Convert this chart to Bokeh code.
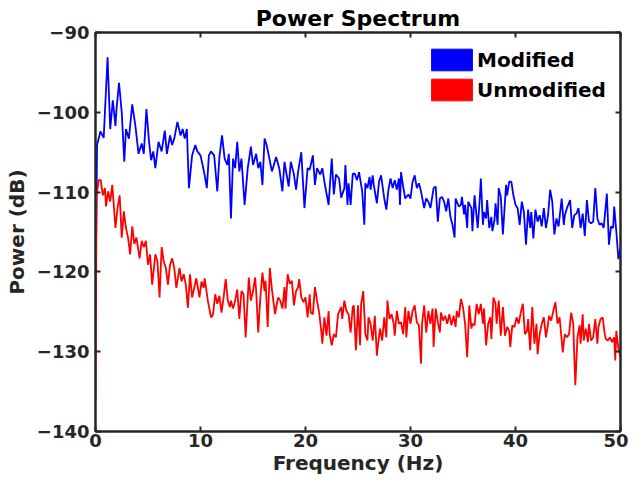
from bokeh.plotting import figure
from bokeh.models import LinearAxis, Legend, LegendItem, FixedTicker, Range1d
from bokeh.embed import file_html
from bokeh.resources import INLINE

# ---- data ----
freq_modified = [
    0.0, 0.15, 0.47, 0.78, 1.15, 1.4, 1.65, 1.9, 2.0, 2.24, 2.5, 2.74, 2.9, 3.18, 3.5, 3.8,
    4.1, 4.4, 4.6, 4.85, 5.1, 5.3, 5.5, 5.7, 6.0, 6.3, 6.6, 6.8, 7.1, 7.3, 7.5, 7.8,
    8.1, 8.3, 8.5, 8.7, 8.9, 9.2, 9.5, 9.7, 10.0, 10.2, 10.4, 10.6, 10.8, 11.0, 11.3, 11.6,
    11.8, 12.05, 12.3, 12.55, 12.7, 12.9, 13.1, 13.3, 13.5, 13.7, 13.9, 14.2, 14.5, 14.8,
    15.0, 15.3, 15.5, 15.7, 15.9, 16.1, 16.3, 16.5, 16.8, 16.9, 17.2, 17.5, 17.8, 18.0,
    18.2, 18.4, 18.6, 18.9, 19.1, 19.3, 19.6, 19.9, 20.2, 20.4, 20.7, 20.9, 21.1, 21.4,
    21.6, 21.8, 22.2, 22.5, 22.7, 22.9, 23.2, 23.4, 23.7, 23.8, 24.0, 24.1, 24.3, 24.5,
    24.7, 24.9, 25.1, 25.4, 25.6, 25.7, 25.9, 26.1, 26.2, 26.4, 26.5, 26.8, 27.0, 27.2,
    27.5, 27.7, 27.9, 28.1, 28.3, 28.5, 28.7, 28.9, 29.0, 29.1, 29.3, 29.5, 29.8, 30.0,
    30.2, 30.4, 30.6, 30.8, 31.0, 31.3, 31.5, 31.7, 31.9, 32.2, 32.4, 32.6, 32.8, 33.0,
    33.2, 33.4, 33.6, 33.8, 34.0, 34.2, 34.3, 34.6, 34.8, 34.9, 35.1, 35.2, 35.4, 35.5,
    35.8, 35.9, 36.1, 36.4, 36.6, 36.7, 36.9, 37.0, 37.2, 37.3, 37.5, 37.7, 37.8, 38.0,
    38.1, 38.3, 38.4, 38.6, 38.8, 39.1, 39.2, 39.4, 39.6, 39.8, 40.0, 40.2, 40.4, 40.6,
    40.8, 41.0, 41.2, 41.4, 41.5, 41.7, 41.9, 42.1, 42.3, 42.5, 42.7, 42.9, 43.1, 43.3,
    43.5, 43.7, 43.9, 44.1, 44.4, 44.6, 44.7, 44.9, 45.2, 45.4, 45.6, 45.8, 46.0, 46.2,
    46.4, 46.6, 46.8, 47.0, 47.2, 47.4, 47.6, 47.8, 48.0, 48.2, 48.4, 48.7, 48.9, 49.1,
    49.3, 49.4, 49.6, 49.8, 50.0,
]
power_modified = [
    -124.0, -104.1, -102.4, -103.2, -93.1, -102.1, -98.5, -101.7, -99.6, -96.3, -100.0, -106.2, -102.1, -103.3, -99.0, -101.7,
    -105.2, -103.9, -105.2, -99.6, -103.7, -106.0, -104.9, -107.0, -103.7, -104.9, -102.3, -105.2, -102.9, -104.1, -103.3, -101.2,
    -102.9, -102.1, -103.3, -102.1, -109.5, -105.4, -104.1, -104.9, -105.4, -106.6, -107.9, -109.5, -105.4, -104.9, -105.4, -109.9,
    -105.6, -102.9, -105.8, -106.6, -105.2, -113.3, -105.8, -107.0, -103.7, -107.4, -105.8, -111.6, -107.0, -104.3,
    -106.6, -105.2, -107.0, -106.2, -109.1, -103.3, -104.1, -105.4, -107.4, -107.0, -105.6, -107.0, -109.9, -106.2,
    -107.8, -109.3, -106.2, -107.8, -109.7, -107.4, -105.0, -112.0, -107.0, -107.2, -105.4, -109.1, -107.0, -107.8,
    -107.0, -108.7, -111.6, -105.8, -110.3, -107.8, -108.3, -110.7, -109.5, -106.6, -111.6, -108.9, -111.6, -107.7,
    -107.7, -108.5, -107.5, -109.9, -114.1, -108.9, -109.5, -108.1, -109.7, -107.9, -109.1, -111.4, -108.7, -107.9,
    -110.8, -112.2, -109.7, -108.3, -109.5, -108.5, -109.7, -108.3, -111.6, -107.5, -109.3, -110.8, -110.3, -110.8,
    -108.7, -107.9, -109.5, -108.9, -109.9, -112.0, -110.8, -111.2, -112.0, -109.5, -109.3, -113.7, -110.8, -110.6,
    -111.2, -112.4, -110.8, -113.1, -114.1, -115.7, -110.8, -111.8, -111.6, -110.6, -112.8, -111.6, -114.5, -111.2,
    -112.0, -114.9, -110.4, -114.5, -110.8, -108.3, -114.1, -112.5, -113.3, -111.0, -114.5, -113.1, -114.9, -113.5,
    -111.4, -114.1, -109.5, -110.6, -115.3, -109.1, -110.4, -108.7, -108.7, -110.4, -111.6, -112.0, -114.1, -111.2,
    -112.5, -116.6, -112.2, -114.5, -112.5, -115.8, -112.2, -113.7, -112.9, -114.3, -112.0, -114.5, -112.9, -109.7,
    -111.2, -115.3, -113.3, -114.3, -110.8, -114.1, -112.9, -112.0, -111.0, -114.5, -112.9, -112.7, -112.0, -114.5,
    -112.7, -115.5, -111.0, -113.7, -113.9, -113.7, -109.5, -113.3, -114.1, -113.9, -114.5, -110.2, -116.6, -114.3,
    -114.5, -111.8, -114.9, -118.4, -117.0,
]

freq_unmodified = [
    0.0, 0.1, 0.3, 0.5, 0.7, 0.9, 1.0, 1.2, 1.4, 1.6, 1.9, 2.1, 2.3, 2.5, 2.7, 2.9, 3.1, 3.3,
    3.5, 3.7, 3.9, 4.2, 4.4, 4.6, 4.8, 5.0, 5.2, 5.4, 5.7, 5.9, 6.1, 6.3, 6.5, 6.7, 6.9, 7.1,
    7.3, 7.5, 7.7, 8.0, 8.2, 8.4, 8.6, 8.8, 9.0, 9.2, 9.4, 9.6, 9.9, 10.1, 10.3, 10.4, 10.7,
    11.0, 11.2, 11.4, 11.6, 11.8, 12.0, 12.2, 12.4, 12.6, 12.8, 12.9, 13.1, 13.3, 13.5, 13.7,
    13.9, 14.1, 14.3, 14.5, 14.6, 14.8, 15.0, 15.2, 15.3, 15.5, 15.7, 15.9, 16.1, 16.2, 16.4,
    16.6, 16.8, 17.1, 17.3, 17.4, 17.6, 17.8, 18.0, 18.1, 18.3, 18.5, 18.7, 18.9, 19.1, 19.3,
    19.4, 19.6, 19.8, 20.0, 20.2, 20.4, 20.5, 20.7, 20.9, 21.1, 21.3, 21.5, 21.6, 21.8, 22.0,
    22.2, 22.3, 22.5, 22.7, 22.9, 23.1, 23.4, 23.5, 23.7, 23.9, 24.1, 24.3, 24.5, 24.6, 24.8,
    25.0, 25.2, 25.3, 25.5, 25.7, 25.9, 26.0, 26.2, 26.4, 26.6, 26.8, 26.9, 27.1, 27.3, 27.5,
    27.7, 27.8, 28.0, 28.2, 28.4, 28.5, 28.7, 28.9, 29.1, 29.3, 29.5, 29.6, 29.8, 30.0, 30.2,
    30.4, 30.6, 30.8, 31.0, 31.1, 31.3, 31.5, 31.7, 31.9, 32.1, 32.2, 32.4, 32.6, 32.8, 32.9,
    33.1, 33.3, 33.5, 33.7, 33.9, 34.1, 34.3, 34.4, 34.6, 34.8, 35.0, 35.2, 35.4, 35.6, 35.8,
    35.9, 36.1, 36.3, 36.5, 36.7, 36.9, 37.0, 37.2, 37.4, 37.6, 37.7, 37.9, 38.1, 38.2, 38.4,
    38.6, 38.8, 39.0, 39.2, 39.4, 39.5, 39.7, 39.9, 40.1, 40.3, 40.5, 40.7, 40.9, 41.1, 41.2,
    41.4, 41.6, 41.8, 42.0, 42.1, 42.3, 42.5, 42.7, 42.9, 43.1, 43.2, 43.4, 43.6, 43.8, 44.0,
    44.2, 44.4, 44.5, 44.7, 44.9, 45.1, 45.3, 45.5, 45.6, 45.7, 45.9, 46.1, 46.2, 46.4, 46.5,
    46.7, 46.9, 47.0, 47.2, 47.4, 47.6, 47.8, 47.9, 48.1, 48.3, 48.5, 48.6, 48.8, 49.0, 49.2,
    49.4, 49.5, 49.6, 49.8, 50.0,
]
power_unmodified = [
    -136.0, -110.5, -108.5, -108.5, -110.4, -109.5, -111.8, -109.9, -111.2, -109.1, -114.5, -112.0, -110.4, -115.7, -112.4, -114.5, -115.7, -117.8,
    -114.3, -116.5, -115.7, -118.3, -116.1, -116.9, -116.1, -119.1, -117.8, -121.6, -117.8, -118.7, -123.2, -116.9, -118.7, -119.5, -121.6, -119.1,
    -118.3, -119.5, -122.0, -119.5, -121.2, -120.3, -121.6, -124.5, -120.3, -123.2, -122.0, -120.8, -123.2, -121.2, -122.0, -120.8, -123.6,
    -125.7, -125.3, -122.8, -124.0, -123.0, -125.1, -123.2, -120.9, -123.6, -124.4, -123.6, -124.6, -123.6, -122.2, -125.9,
    -122.4, -122.8, -128.2, -123.2, -120.7, -123.6, -122.4, -120.7, -122.4, -127.6, -123.2, -120.1, -122.4, -121.1, -126.9,
    -119.5, -122.2, -125.3, -123.8, -123.2, -123.6, -124.6, -121.9, -124.6, -120.3, -121.5, -121.1, -124.2, -122.4, -121.9,
    -120.9, -123.2, -123.8, -123.2, -125.7, -122.8, -125.1, -125.3, -121.9, -123.6, -125.1, -127.4, -129.0, -125.7, -128.0,
    -124.9, -127.8, -129.2, -127.8, -128.2, -125.3, -124.4, -125.9, -123.6, -124.9, -125.3, -127.6, -124.4, -124.2, -129.8,
    -124.2, -129.2, -124.0, -122.4, -127.8, -128.6, -125.7, -126.5, -128.6, -125.5, -130.5, -129.2, -127.1, -128.6, -125.7,
    -128.2, -123.6, -125.9, -125.3, -126.5, -128.0, -124.9, -126.5, -126.3, -127.8, -124.4, -128.2, -124.9, -126.5, -124.9,
    -124.2, -126.3, -126.7, -131.5, -126.5, -124.2, -127.6, -124.9, -126.5, -124.6, -129.4, -124.6, -126.3, -127.6, -125.1,
    -126.1, -125.5, -126.5, -125.3, -126.7, -125.5, -126.9, -124.9, -125.7, -123.4, -124.4, -126.5, -130.7, -124.2, -127.1,
    -126.5, -126.7, -124.0, -125.3, -124.0, -126.5, -124.6, -129.2, -126.5, -125.7, -128.4, -123.2, -124.0, -126.5, -123.6,
    -128.0, -124.4, -128.0, -126.9, -127.4, -129.4, -126.7, -126.9, -125.7, -126.5, -125.1, -124.0, -127.8, -127.4, -125.9,
    -129.8, -124.4, -129.0, -126.5, -130.3, -127.8, -126.5, -125.7, -128.2, -126.5, -125.5, -126.1, -124.9, -123.8, -126.5,
    -125.7, -128.6, -130.1, -127.8, -128.2, -127.8, -125.1, -126.5, -130.7, -134.2, -128.2, -126.7, -129.0, -125.3, -128.6,
    -127.1, -128.8, -126.5, -128.6, -128.2, -125.9, -129.0, -126.9, -125.9, -125.7, -127.8, -128.4, -128.6, -128.2, -128.8,
    -128.2, -131.1, -127.4, -129.6, -130.7,
]

x_ticks = [0, 10, 20, 30, 40, 50]
y_ticks = [-140, -130, -120, -110, -100, -90]
series_labels = ["Modified", "Unmodified"]
series_colors = ["#0000FF", "#FF0000"]
title_text = "Power Spectrum"
x_label = "Frequency (Hz)"
y_label = "Power (dB)"

FONT = "DejaVu Sans"
AXC = "#262626"

p = figure(width=628, height=478, output_backend="svg", toolbar_location=None,
           x_range=Range1d(0, 50), y_range=Range1d(-140, -90),
           min_border_left=95, min_border_right=8, min_border_top=32, min_border_bottom=47)

p.title.text = title_text
p.title.align = "center"
p.title.text_font = FONT
p.title.text_font_style = "bold"
p.title.text_font_size = "22px"
p.title.text_color = "black"
p.title.standoff = 4
p.title.offset = 0

p.grid.visible = False
p.outline_line_color = AXC
p.outline_line_width = 2
p.background_fill_color = "white"
p.border_fill_color = "white"

def style_axis(ax, show_labels):
    ax.axis_line_color = AXC
    ax.axis_line_width = 2
    ax.major_tick_in = 5
    ax.major_tick_out = 0
    ax.major_tick_line_color = AXC
    ax.major_tick_line_width = 2
    ax.minor_tick_line_color = None
    ax.major_label_text_font = FONT
    ax.major_label_text_font_style = "bold"
    if show_labels:
        ax.major_label_text_color = AXC
        ax.major_label_text_font_size = "18px"
    else:
        ax.major_label_text_color = None
        ax.major_label_text_font_size = "1px"
        ax.major_label_standoff = 0

xa = p.xaxis[0]
ya = p.yaxis[0]
xa.ticker = FixedTicker(ticks=x_ticks)
ya.ticker = FixedTicker(ticks=y_ticks)
style_axis(xa, True)
style_axis(ya, True)
xa.major_label_standoff = 2
ya.major_label_standoff = 6
xa.axis_label = x_label
ya.axis_label = y_label
for ax in (xa, ya):
    ax.axis_label_text_font = FONT
    ax.axis_label_text_font_style = "bold"
    ax.axis_label_text_font_size = "20px"
    ax.axis_label_text_color = AXC
xa.axis_label_standoff = 1
ya.axis_label_standoff = 5

top_ax = LinearAxis(ticker=FixedTicker(ticks=x_ticks))
right_ax = LinearAxis(ticker=FixedTicker(ticks=y_ticks))
style_axis(top_ax, False)
style_axis(right_ax, False)
p.add_layout(top_ax, "above")
p.add_layout(right_ax, "right")

r_mod = p.line(freq_modified, power_modified, line_color=series_colors[0], line_width=1.8)
r_unmod = p.line(freq_unmodified, power_unmodified, line_color=series_colors[1], line_width=1.8)

# legend swatches (filled boxes as in the reference); hidden on the plot itself
sw_mod = p.rect(x=freq_modified[:1], y=power_modified[:1], width=0, height=0,
                fill_color=series_colors[0], line_color=series_colors[0], visible=False)
sw_unmod = p.rect(x=freq_unmodified[:1], y=power_unmodified[:1], width=0, height=0,
                  fill_color=series_colors[1], line_color=series_colors[1], visible=False)

legend = Legend(items=[LegendItem(label=series_labels[0], renderers=[sw_mod]),
                       LegendItem(label=series_labels[1], renderers=[sw_unmod])],
                location=(331, 328))
legend.click_policy = "none"
legend.inactive_fill_alpha = 0
legend.border_line_color = None
legend.background_fill_alpha = 0
legend.label_text_font = FONT
legend.label_text_font_style = "bold"
legend.label_text_font_size = "20px"
legend.label_text_color = "black"
legend.glyph_width = 51
legend.glyph_height = 27
legend.label_standoff = 0
legend.spacing = 3
legend.padding = 2
legend.margin = 0
p.add_layout(legend)

open("out.html", "w").write(file_html(p, INLINE))
